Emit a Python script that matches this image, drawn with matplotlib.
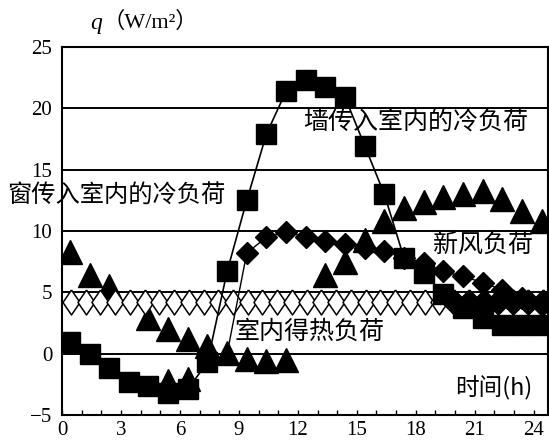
import numpy as np
import matplotlib
matplotlib.use("Agg")
import matplotlib.pyplot as plt

nan = np.nan

# ---- data ----
hours = [0.4, 1.4, 2.4, 3.4, 4.4, 5.4, 6.4, 7.4, 8.4, 9.4, 10.4, 11.4, 12.4,
         13.4, 14.4, 15.4, 16.4, 17.4, 18.4, 19.4, 20.4, 21.4, 22.4, 23.4, 24.4]

window_load = [0.95, 0.0, -1.2, -2.3, -2.6, -3.2, -2.9, -0.7, 6.7, 12.5, 17.9, 21.4, 22.3,
               21.7, 20.9, 16.95, 13.0, 7.8, 6.6, 4.9, 3.75, 2.9, 2.35, 2.35, 2.35]

wall_load = [8.25, 6.4, 5.5, nan, 2.9, 2.0, 1.2, 0.6, 0.05, -0.4, -0.6, -0.5, nan,
             6.4, 7.5, 9.3, 10.8, 11.9, 12.4, 12.8, 13.0, 13.3, 12.6, 11.6, 10.8]

wall_low = [nan, nan, nan, nan, nan, -2.2, -2.1, nan, nan, nan, nan, nan, nan,
            nan, nan, nan, nan, nan, nan, nan, nan, nan, nan, nan, nan]

fresh_air_load = [nan, nan, nan, nan, nan, nan, nan, nan, 0.0, 8.2, 9.5, 9.9, 9.5,
                  9.2, 8.9, 8.6, 8.4, 7.8, 7.4, 6.7, 6.3, 5.8, 5.2, 4.5, 4.0]

gain_hours = [0.45, 1.2, 1.95, 2.7, 3.45, 4.2, 4.95, 5.7, 6.45, 7.2, 7.95, 8.7, 9.45,
              10.2, 10.95, 11.7, 12.45, 13.2, 13.95, 14.7, 15.45, 16.2, 16.95, 17.7,
              18.45, 19.2, 19.95, 20.7, 21.45, 22.2, 22.95, 23.7, 24.45]
gain_load = [4.2] * len(gain_hours)
gain_open_count = 26

x_major = [0, 3, 6, 9, 12, 15, 18, 21, 24]
y_ticks = [-5, 0, 5, 10, 15, 20, 25]

# ---- figure ----
fig = plt.figure(figsize=(5.49, 4.41), dpi=100)
ax = fig.add_axes([62/549, 1-415/441, (547.5-62)/549, (415-47)/441])
ax.set_xlim(0, 24.7)
ax.set_ylim(-5, 25)

num_font = "Liberation Serif"
cjk = ["Noto Sans CJK SC", "DejaVu Sans"]

ax.set_yticks(y_ticks)
ax.set_yticklabels([str(v).replace("-", "\u2212") for v in y_ticks],
                   fontfamily=num_font, fontsize=15)
ax.set_xticks(x_major)
ax.set_xticks(np.arange(0, 25, 1), minor=True)
ax.set_xticklabels([str(v) for v in x_major], fontfamily=num_font, fontsize=15)
ax.tick_params(axis="x", which="both", direction="in", length=3.6, width=1.0, pad=4)
ax.tick_params(axis="y", length=0, pad=7)
ax.yaxis.grid(True, color="black", lw=1.4)
ax.set_axisbelow(True)
for s in ax.spines.values():
    s.set_linewidth(1.5)

# wall load triangles
ax.plot(hours, wall_load, ls="none", marker="^", ms=17, color="black", zorder=3)
ax.plot(hours, wall_low, ls="none", marker="^", ms=17, color="black", zorder=3)

# indoor heat gain: open diamonds, filled after ~19.5 h
dverts = [(0, 1), (0.68, 0), (0, -1), (-0.68, 0), (0, 1)]
wide_verts = [(0, 1), (1.0, 0), (0, -1), (-1.0, 0), (0, 1)]
ax.plot(gain_hours[:gain_open_count], gain_load[:gain_open_count], color="black", lw=1.2,
        marker=dverts, ms=18, mfc="white", mec="black", mew=1.1, zorder=4)
ax.plot(gain_hours[gain_open_count-1:], gain_load[gain_open_count-1:], color="black", lw=1.2,
        marker=wide_verts, ms=18, mfc="black", mec="black", mew=1.1, zorder=4,
        markevery=list(range(1, len(gain_hours) - gain_open_count + 1)))

# fresh air load: filled diamonds
fa_marks = [i for i, v in enumerate(fresh_air_load) if not np.isnan(v) and i > 8]
ax.plot(hours, fresh_air_load, color="black", lw=1.0, marker="D", ms=11.5,
        markevery=fa_marks, zorder=5)

# window load: filled squares with line
ax.plot(hours, window_load, color="black", lw=1.2, marker="s", ms=14.5, zorder=6)

# ---- labels ----
ax.text(12.26, 18.9, "墙传入室内的冷负荷", fontfamily=cjk, fontsize=18, va="center", ha="left", zorder=7)
ax.text(-2.8, 12.85, "窗传入室内的冷负荷", fontfamily=cjk, fontsize=17.5, va="center", ha="left",
        clip_on=False, zorder=7)
ax.text(18.9, 8.85, "新风负荷", fontfamily=cjk, fontsize=18, va="center", ha="left", zorder=7)
ax.text(8.8, 1.75, "室内得热负荷", fontfamily=cjk, fontsize=18, va="center", ha="left", zorder=7)
ax.text(20.0, -2.8, "时间(h)", fontfamily=cjk, fontsize=17, va="center", ha="left", zorder=7)

fig.text(90/549, 1-24/441, "q", fontfamily=num_font, fontstyle="italic",
         fontsize=17, va="center", ha="left")
fig.text(103/549, 1-22/441, "（W/m²）", fontfamily=["Liberation Serif", "Noto Sans CJK SC"],
         fontsize=16, va="center", ha="left")

fig.savefig("out.png", dpi=100)
